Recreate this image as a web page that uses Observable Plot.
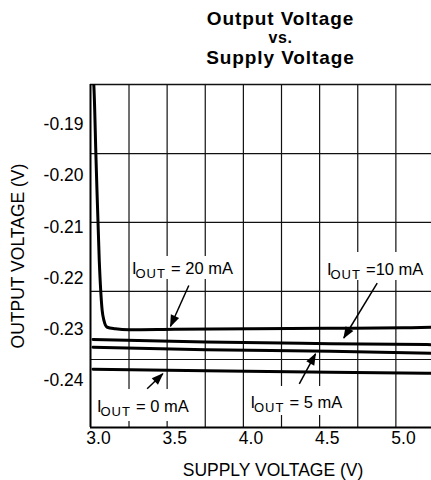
<!DOCTYPE html>
<html>
<head>
<meta charset="utf-8">
<script src="https://cdn.jsdelivr.net/npm/d3@7"></script>
<script src="https://cdn.jsdelivr.net/npm/@observablehq/plot@0.6"></script>
<style>
  html, body { margin: 0; padding: 0; background: #fff; }
  #wrap { position: relative; width: 431px; height: 480px; overflow: hidden; background: #fff; }
  .t { position: absolute; left: 130px; width: 301px; text-align: center; font-family: "Liberation Sans", Arial, sans-serif; font-weight: bold; font-size: 19px; line-height: 1.117em; letter-spacing: 0.9px; color: #000; white-space: nowrap; }
  .t.small { font-size: 16px; letter-spacing: 0.6px; }
  #chart { position: absolute; left: 0; top: 0; }
  g[font-size="13"] { letter-spacing: 1px; }
</style>
</head>
<body>
<div id="wrap">
  <div id="chart"></div>
  <div class="t" style="top:7.6px">Output Voltage</div>
  <div class="t small" style="top:29px">vs.</div>
  <div class="t" style="top:47px">Supply Voltage</div>
</div>
<script>
// ---- data ----
const xTicks = [3.0, 3.5, 4.0, 4.5, 5.0];
const yTicks = [-0.19, -0.20, -0.21, -0.22, -0.23, -0.24];
const gridX = [3.2, 3.45, 3.7, 3.95, 4.2, 4.45, 4.7, 4.95];
const gridY = [-0.1957, -0.2091, -0.2226, -0.2359];
const xDomain = [2.9475, 5.1836];
const yDomain = [-0.24918, -0.18219];

// I_OUT = 20 mA
const supply20 = [2.967, 2.969, 2.984, 3.005, 3.024, 3.036, 3.057, 3.11, 3.2, 3.5, 4.0, 4.5, 5.0, 5.19];
const out20 = [-0.1815, -0.1822, -0.1970, -0.2166, -0.2263, -0.2283, -0.2296, -0.2299, -0.2301, -0.2300, -0.2299, -0.2298, -0.2297, -0.2296];
// I_OUT = 10, 5, 0 mA
const supplyLow = [2.964, 3.702, 4.521, 5.19];
const out10 = [-0.2320, -0.2325, -0.2328, -0.2330];
const out5 = [-0.2335, -0.2340, -0.2343, -0.2347];
const out0 = [-0.2378, -0.2381, -0.2384, -0.2386];

// annotations
const annSub = ["OUT", "OUT", "OUT", "OUT"];
const annMain = ["= 20 mA", "=10 mA", "= 0 mA", "= 5 mA"];
const annX = [3.2197, 4.4984, 2.9902, 3.9967];
const annY = [-0.21916, -0.21930, -0.24625, -0.24541];
const boxX1 = [3.2164, 4.4885, 2.9803, 3.977];
const boxX2 = [3.9377, 5.1639, 3.6689, 4.6656];
const boxY1 = [-0.21578, -0.21500, -0.24176, -0.24117];
const boxY2 = [-0.22027, -0.22047, -0.24801, -0.24684];
const arrowX1 = [3.592, 4.8275, 3.319, 4.3167];
const arrowY1 = [-0.22145, -0.22100, -0.24162, -0.24065];
const arrowX2 = [3.472, 4.6085, 3.4216, 4.423];
const arrowY2 = [-0.2294, -0.2317, -0.23869, -0.23479];

// ---- build tables ----
const toRows = (xs, ys) => xs.map((x, i) => ({x, y: ys[i]}));
const curves = [
  toRows(supply20, out20),
  toRows(supplyLow, out10),
  toRows(supplyLow, out5),
  toRows(supplyLow, out0)
];
const ann = annMain.map((m, i) => ({
  main: m, sub: annSub[i], x: annX[i], y: annY[i],
  bx1: boxX1[i], bx2: boxX2[i], by1: boxY1[i], by2: boxY2[i],
  ax1: arrowX1[i], ay1: arrowY1[i], ax2: arrowX2[i], ay2: arrowY2[i]
}));

function filledArrow(color, context) {
  const m = d3.create("svg:marker")
    .attr("viewBox", "-12 -5 13 10")
    .attr("markerWidth", 13).attr("markerHeight", 10)
    .attr("markerUnits", "userSpaceOnUse")
    .attr("orient", "auto")
    .attr("fill", "black").attr("stroke", "none");
  m.append("path").attr("d", "M-11,-4.5L1,0L-11,4.5Z");
  return m.node();
}

const font = "Liberation Sans, Arial, Helvetica, sans-serif";
const gridStroke = "#111";

const plot = Plot.plot({
  width: 431,
  height: 480,
  marginLeft: 90,
  marginRight: 0,
  marginTop: 84,
  marginBottom: 53,
  style: {fontFamily: font, fontSize: "17.5px", color: "black", background: "white", overflow: "visible"},
  x: {domain: xDomain, ticks: xTicks, tickFormat: d => d.toFixed(1), tickSize: 0, tickPadding: 4, label: null},
  y: {domain: yDomain, ticks: yTicks, tickFormat: d => d.toFixed(2), tickSize: 0, tickPadding: 7, label: null},
  marks: [
    Plot.ruleX(gridX, {stroke: gridStroke, strokeWidth: 1.2}),
    Plot.ruleY(gridY, {stroke: gridStroke, strokeWidth: 1.2}),
    Plot.ruleY([yDomain[1]], {stroke: gridStroke, strokeWidth: 1.3}),
    Plot.ruleY([yDomain[0]], {stroke: "black", strokeWidth: 2}),
    Plot.ruleX([xDomain[0]], {stroke: "black", strokeWidth: 2}),
    Plot.rect(ann, {x1: "bx1", x2: "bx2", y1: "by1", y2: "by2", fill: "white"}),
    ...curves.map(c => Plot.line(c, {x: "x", y: "y", stroke: "black", strokeWidth: 3, curve: "monotone-x", clip: true})),
    Plot.link(ann, {x1: "ax1", y1: "ay1", x2: "ax2", y2: "ay2", stroke: "black", strokeWidth: 1.5, markerEnd: filledArrow}),
    Plot.text(ann, {x: "x", y: "y", text: () => "I", textAnchor: "start", lineAnchor: "bottom", fontSize: 16.5, fill: "black"}),
    Plot.text(ann, {x: "x", y: "y", text: "sub", textAnchor: "start", lineAnchor: "bottom", fontSize: 13, dx: 3.5, dy: 4, fill: "black"}),
    Plot.text(ann, {x: "x", y: "y", text: "main", textAnchor: "start", lineAnchor: "bottom", fontSize: 16.5, dx: 39, fill: "black"}),
    Plot.text(["OUTPUT VOLTAGE (V)"], {text: d => d, frameAnchor: "left", rotate: -90, textAnchor: "middle", dx: -72.5, lineAnchor: "middle", fontSize: 17.5, fill: "black"}),
    Plot.text(["SUPPLY VOLTAGE (V)"], {text: d => d, frameAnchor: "bottom", textAnchor: "middle", dx: 12, dy: 43.3, lineAnchor: "middle", fontSize: 17.5, fill: "black"})
  ]
});
document.getElementById("chart").appendChild(plot);
</script>
</body>
</html>
